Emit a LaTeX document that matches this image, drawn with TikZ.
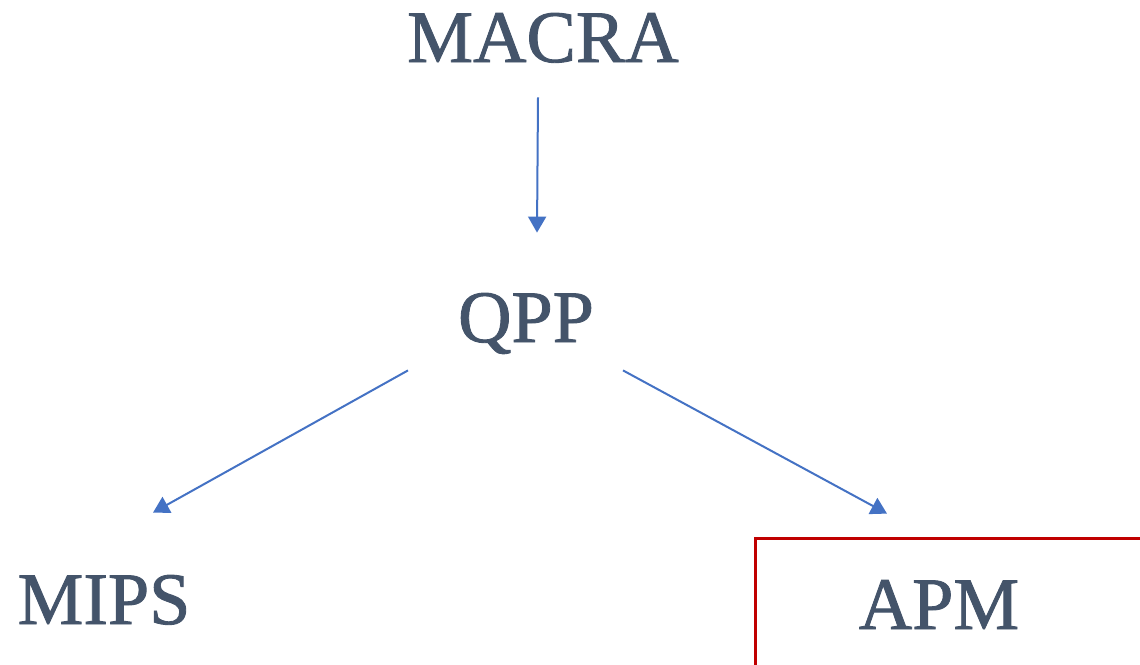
\documentclass[tikz,border=0pt]{standalone}
\usepackage{fontspec}
\setmainfont{Liberation Serif}
\newfontfamily\heavyserif[FakeBold=1.2]{Liberation Serif}
\usepackage{tikz}
\usetikzlibrary{arrows.meta}
\usetikzlibrary{calc}

\definecolor{labelgray}{HTML}{44546A}
\definecolor{arrowblue}{HTML}{4472C4}
\definecolor{boxred}{HTML}{C00000}

\tikzset{
  isaname/.style={text=labelgray, inner sep=0pt, anchor=base, text height=25pt, text depth=0pt,
               font=\heavyserif\fontsize{37}{40}\selectfont},
  link/.style={draw=arrowblue, line width=1pt, -{Triangle[length=8pt,width=9pt]}}
}

\begin{document}
\begin{tikzpicture}[x=0.5pt, y=-0.5pt]

\clip (0,0) rectangle (1140,664);

% First, define nodes
\node[isaname] (macra) at (543,62) {MACRA};
\node[isaname] (qpp) at (526,342) {QPP};
\node[isaname] (mips) at (104,624) {MIPS};
\node[isaname] (apm) at (939,629) {APM};

% The red frame round APM, running off the page
\draw[boxred, line width=1.5pt] (755,538) rectangle (1200,720);

% Now the arrows, from node to node
\draw[link] ($(macra.south)+(-5,35)$) -- ($(qpp.north)+(11,-59)$);
\draw[link] ($(qpp.south)+(-118,28)$) -- ($(mips.north)+(49,-61)$);
\draw[link] ($(qpp.south)+(97,28)$) -- ($(apm.north)+(-52,-65)$);

\end{tikzpicture}
\end{document}
